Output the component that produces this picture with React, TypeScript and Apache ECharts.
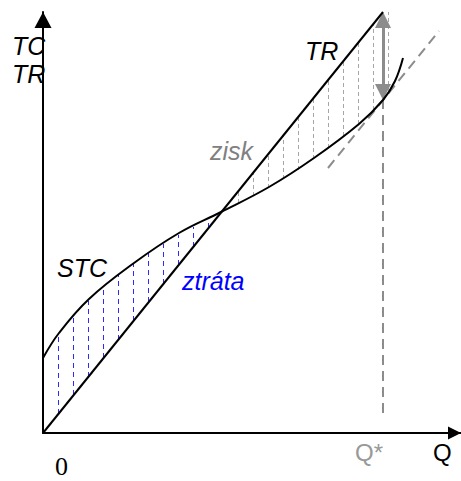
import { useEffect, useRef } from 'react';
import * as echarts from 'echarts';

// Data units: Q (horizontal) and TC/TR (vertical)
const Q_MAX = 418;
const Y_MAX = 421;

const trLine: number[][] = [[0, 0], [340, 421]];
const stcCurve: number[][] = [
  [0, 75], [16, 100], [46, 134], [91, 170], [136, 200], [178, 221], [226, 246],
  [271, 275], [316, 309], [340, 333], [352, 352], [360, 375],
];
const tangentLine: number[][] = [[285, 265], [396, 402]];
const qStarLine: number[][] = [[340, 20], [340, 333]];
const profitArrow: number[][] = [[340, 413], [340, 341]];

// loss region (STC above TR)
const lossQ = [15.5, 30.5, 45.5, 60.5, 75.5, 90.5, 105.5, 120.5, 135.5, 150.5, 165.5];
const lossSTC = [99, 117, 132, 146, 158, 169, 180, 189, 198, 206, 214];
const lossTR = [19, 38, 56, 75, 93, 112, 131, 149, 168, 186, 205];

// profit region (TR above STC)
const profitQ = [195.5, 210.5, 225.5, 240.5, 255.5, 270.5, 285.5, 300.5, 315.5, 330.5, 345.5];
const profitSTC = [230, 237, 245, 254, 263, 274, 285, 297, 309, 323, 341];
const profitTR = [242, 261, 279, 298, 316, 335, 353, 372, 391, 409, 421];

const SANS = '"Liberation Sans", Arial, sans-serif';

export default function App() {
  const ref = useRef<HTMLDivElement>(null);
  useEffect(() => {
    if (!ref.current) return;
    const chart = echarts.init(ref.current, null, { renderer: 'svg' });
    const label = (text: string, x: number, y: number, fill: string, italic = true, size = 25, family = SANS) => ({
      type: 'text',
      x,
      y,
      z: 100,
      style: {
        text,
        fill,
        font: `${italic ? 'italic ' : ''}${size}px ${family}`,
        verticalAlign: 'middle',
        align: 'left',
      },
    });
    chart.setOption({
      animation: false,
      grid: { left: 43, right: 0, top: 12, bottom: 48 },
      xAxis: {
        type: 'value', min: 0, max: Q_MAX,
        axisLine: { show: true, onZero: false, symbol: ['none', 'triangle'], symbolSize: [13, 13], symbolOffset: [0, -6.5], lineStyle: { color: '#000', width: 2 } },
        axisTick: { show: false }, axisLabel: { show: false }, splitLine: { show: false },
      },
      yAxis: {
        type: 'value', min: 0, max: Y_MAX,
        axisLine: { show: true, onZero: false, symbol: ['none', 'triangle'], symbolSize: [17, 16], symbolOffset: [0, -8], lineStyle: { color: '#000', width: 2 } },
        axisTick: { show: false }, axisLabel: { show: false }, splitLine: { show: false },
      },
      series: [
        {
          type: 'lines', coordinateSystem: 'cartesian2d', z: 1,
          lineStyle: { color: '#2b2bff', width: 1, type: [5, 4], opacity: 1 },
          data: lossQ.map((q, i) => ({ coords: [[q, lossTR[i]], [q, lossSTC[i]]] })),
        },
        {
          type: 'lines', coordinateSystem: 'cartesian2d', z: 1,
          lineStyle: { color: '#a6a6a6', width: 1, type: [4, 3], opacity: 1 },
          data: profitQ.map((q, i) => ({ coords: [[q, profitSTC[i]], [q, profitTR[i]]] })),
        },
        {
          type: 'lines', coordinateSystem: 'cartesian2d', z: 2,
          lineStyle: { color: '#8c8c8c', width: 2, type: [10, 6], opacity: 1 },
          data: [{ coords: tangentLine }, { coords: qStarLine }],
        },
        {
          type: 'lines', coordinateSystem: 'cartesian2d', z: 3,
          symbol: ['triangle', 'triangle'], symbolSize: 16,
          lineStyle: { color: '#8c8c8c', width: 3, opacity: 1 },
          data: [{ coords: profitArrow }],
        },
        {
          type: 'line', data: trLine, showSymbol: false, symbol: 'none', z: 4, clip: false,
          lineStyle: { color: '#000', width: 2 },
        },
        {
          type: 'line', data: stcCurve, showSymbol: false, symbol: 'none', z: 4, smooth: 0.4, clip: false,
          lineStyle: { color: '#000', width: 2 },
        },
      ],
      graphic: [
        label('TC', 12, 46, '#000'),
        label('TR', 12, 74, '#000'),
        label('TR', 305, 51, '#000'),
        label('zisk', 210, 151, '#808080'),
        label('STC', 57, 268, '#000'),
        label('ztráta', 182, 281, '#0000ff'),
        label('Q*', 355, 452, '#999999', false, 24),
        label('Q', 433, 452, '#000', false, 24),
        label('0', 55, 466, '#000', false, 26, '"Liberation Serif", "Times New Roman", serif'),
      ],
    });
    return () => chart.dispose();
  }, []);
  return <div ref={ref} style={{ position: 'absolute', left: 0, top: 0, width: 461, height: 481 }} />;
}
